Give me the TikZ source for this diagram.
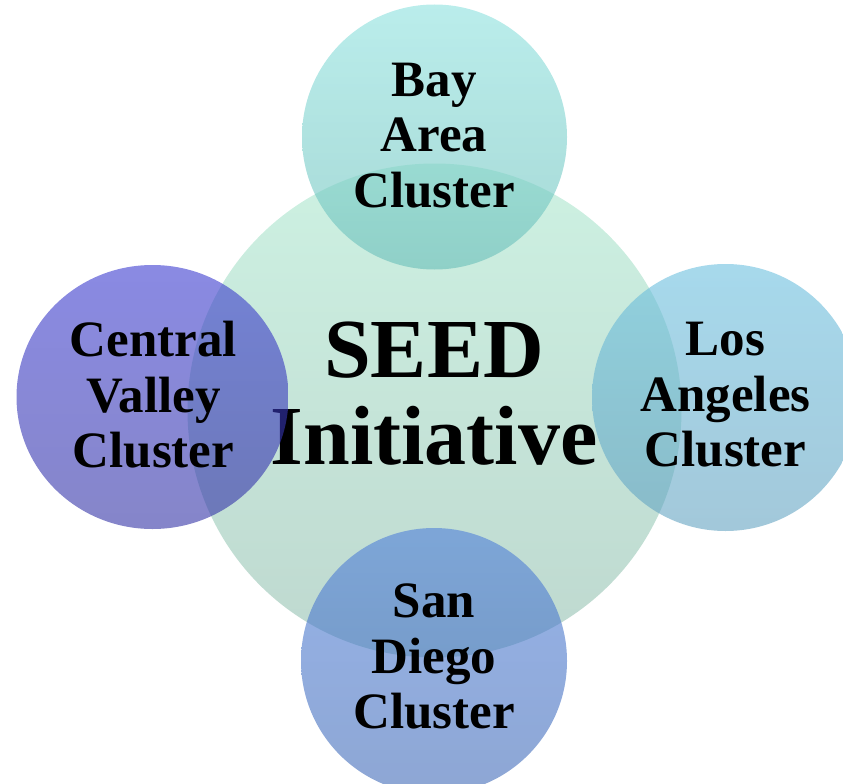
\documentclass[tikz,border=0pt]{standalone}
\usepackage{fontspec}
\setmainfont{Liberation Serif}
\usetikzlibrary{shapes.geometric}
\definecolor{cenTop}{RGB}{205,241,226}
\definecolor{cenBot}{RGB}{190,216,207}
\definecolor{bayTop}{RGB}{140,225,222}
\definecolor{bayBot}{RGB}{105,190,185}
\definecolor{cvTop}{RGB}{60,60,208}
\definecolor{cvBot}{RGB}{52,52,165}
\definecolor{laTop}{RGB}{108,192,223}
\definecolor{laBot}{RGB}{100,163,193}
\definecolor{sdTop}{RGB}{80,128,218}
\definecolor{sdBot}{RGB}{65,107,183}
\tikzset{
  blob/.style={circle, draw=none, inner sep=0pt, outer sep=0pt},
  satblob/.style={blob, fill opacity=0.6},
  sattext/.style={inner sep=0pt, align=center, text=black,
    font=\fontsize{51}{55.5}\selectfont\bfseries},
  centext/.style={inner sep=0pt, align=center, text=black,
    font=\fontsize{84}{86.5}\selectfont\bfseries}
}
\begin{document}
\begin{tikzpicture}[x=1pt,y=-1pt]
\useasboundingbox (0,0) rectangle (843,784);
% central circle
\node[blob, minimum size=494pt, top color=cenTop, bottom color=cenBot] (cen) at (434.5,410.5) {};
\node[centext] (centxt) at (434,393.7) {SEED\\Initiative};
% Bay Area
\node[satblob, minimum size=265pt, top color=bayTop, bottom color=bayBot] (bay) at (434.5,137) {};
\node[sattext] (baytxt) at (434,135.5) {Bay\\Area\\Cluster};
% Central Valley
\node[satblob, ellipse, minimum width=272pt, minimum height=264pt, top color=cvTop, bottom color=cvBot] (cv) at (152.5,397) {};
\node[sattext] (cvtxt) at (153.5,395) {Central\\Valley\\Cluster};
% Los Angeles
\node[satblob, minimum size=267pt, top color=laTop, bottom color=laBot] (la) at (725.5,397.5) {};
\node[sattext] (latxt) at (725.5,395) {Los\\Angeles\\Cluster};
% San Diego
\node[satblob, minimum size=266pt, top color=sdTop, bottom color=sdBot] (sd) at (434,661) {};
\node[sattext] (sdtxt) at (434,656.5) {San\\Diego\\Cluster};
\end{tikzpicture}
\end{document}
